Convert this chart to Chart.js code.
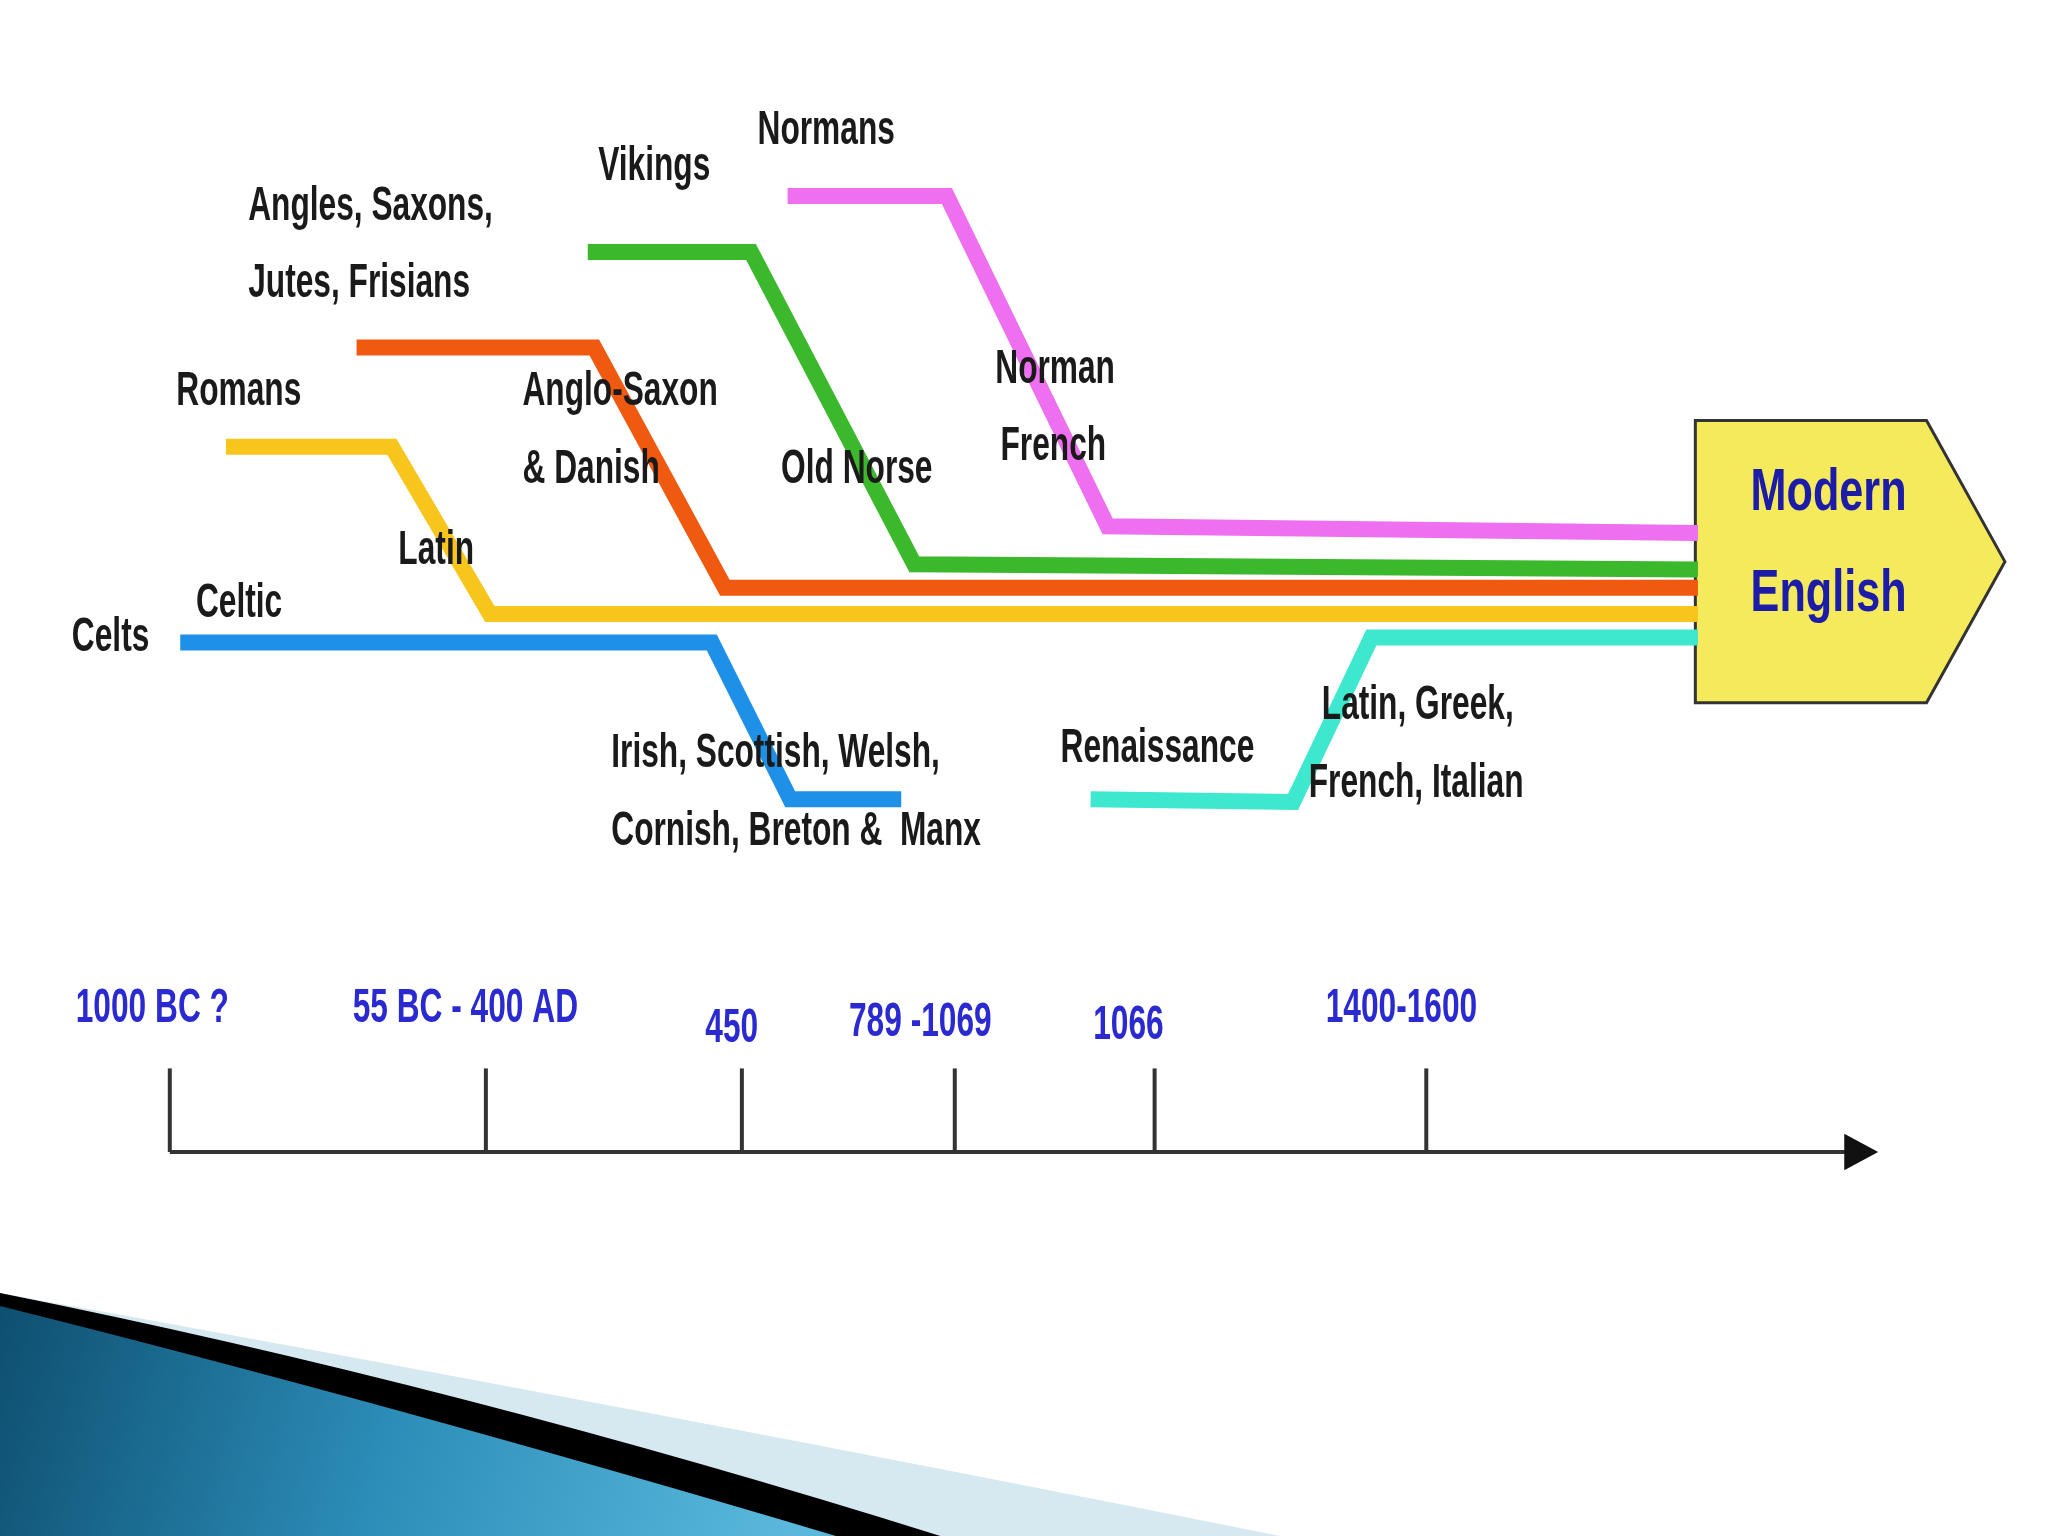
<!DOCTYPE html>
<html><head><meta charset="utf-8">
<script src="https://cdn.jsdelivr.net/npm/chart.js@4/dist/chart.umd.min.js"></script>
<style>html,body{margin:0;padding:0;background:#fff}#w{width:2048px;height:1536px}</style>
</head><body><div id="w"><canvas id="c"></canvas></div>
<script>
// Diagram coordinates (units of a 1568 x 1176 board)
const celtic = [[138,492],[545,492],[605,612],[690,612]];
const renaissance = [[835,612],[990,614],[1050,488],[1300,488]];
const latin = [[173,342],[300,342],[375,470],[1300,470]];
const angloSaxon = [[273,266],[455,266],[555,450],[1300,450]];
const oldNorse = [[450,193],[575,193],[700,432],[1300,436]];
const normanFrench = [[603,150],[725,150],[848,403],[1300,408]];
const seriesColors = ['#1e90e8','#3de8cf','#f7c51c','#ef5a10','#3cb82c','#ee6ff0'];
const tickYears = [130,372,568,731,884,1092];
const tickLabels = ['1000 BC ?','55 BC - 400 AD','450','789 -1069','1066','1400-1600'];
const tickLabelPos = [[58,772],[270,772],[540,788],[650,783],[837,785],[1015,772]];
const labels = [
 ['Celts',55,488],['Celtic',150,462],['Romans',135,300],['Latin',305,422],
 ['Angles, Saxons,',190,158],['Jutes, Frisians',190,217],['Anglo-Saxon',400,300],['& Danish',400,360],
 ['Vikings',458,128],['Normans',580,100],['Old Norse',598,360],['Norman',762,283],['French',766,342],
 ['Irish, Scottish, Welsh,',468,577],['Cornish, Breton &  Manx',468,637],['Renaissance',812,573],
 ['Latin, Greek,',1012,540],['French, Italian',1002,600]];
const target = [[1298,322],[1475,322],[1535,430],[1475,538],[1298,538]];

const toPts = a => a.map(p=>({x:p[0],y:p[1]}));
const all = [celtic,renaissance,latin,angloSaxon,oldNorse,normanFrench];
const datasets = all.map((s,i)=>({data:toPts(s),showLine:true,borderColor:seriesColors[i],borderWidth:16,pointRadius:0,borderJoinStyle:'miter',borderCapStyle:'butt',order:6-i}));
const F = "bold 48px 'Liberation Sans','DejaVu Sans',sans-serif";
function sText(c,t,x,y,sx,align){c.save();c.translate(x,y);c.scale(sx,1);c.textAlign=align||'left';c.fillText(t,0,0);c.restore();}

const deco = {id:'deco',
 beforeDatasetsDraw(ch){const c=ch.ctx,X=ch.scales.x,Y=ch.scales.y;const px=v=>X.getPixelForValue(v),py=v=>Y.getPixelForValue(v);
  c.save();
  c.fillStyle='#d6e8f0';c.beginPath();c.moveTo(px(0),py(990));c.quadraticCurveTo(px(500),py(1080),px(980),py(1176));c.lineTo(px(0),py(1176));c.fill();
  const g=c.createLinearGradient(px(0),py(1000),px(600),py(1176));g.addColorStop(0,'#0e4f70');g.addColorStop(0.5,'#2c8db8');g.addColorStop(1,'#5ab8dc');
  c.fillStyle='#000';c.beginPath();c.moveTo(px(0),py(990));c.quadraticCurveTo(px(350),py(1060),px(720),py(1176));c.lineTo(px(0),py(1176));c.fill();
  c.fillStyle=g;c.beginPath();c.moveTo(px(0),py(1000));c.quadraticCurveTo(px(300),py(1075),px(640),py(1176));c.lineTo(px(0),py(1176));c.fill();
  c.fillStyle='#f4ea5c';c.strokeStyle='#333';c.lineWidth=3;c.beginPath();
  target.forEach((p,i)=>i?c.lineTo(px(p[0]),py(p[1])):c.moveTo(px(p[0]),py(p[1])));c.closePath();c.fill();c.stroke();
  c.restore();},
 afterDatasetsDraw(ch){const c=ch.ctx,X=ch.scales.x,Y=ch.scales.y;const px=v=>X.getPixelForValue(v),py=v=>Y.getPixelForValue(v);
  c.save();
  c.strokeStyle='#333';c.lineWidth=4;c.beginPath();c.moveTo(px(130),py(882));c.lineTo(px(1420),py(882));c.stroke();
  c.fillStyle='#111';c.beginPath();c.moveTo(px(1438),py(882));c.lineTo(px(1412),py(868));c.lineTo(px(1412),py(896));c.fill();
  tickYears.forEach(t=>{c.beginPath();c.moveTo(px(t),py(818));c.lineTo(px(t),py(882));c.stroke();});
  c.textBaseline='middle';
  c.font=F;c.fillStyle='#2a2ad0';
  tickLabels.forEach((t,i)=>sText(c,t,px(tickLabelPos[i][0]),py(tickLabelPos[i][1]),0.66));
  c.fillStyle='#1a1a1a';
  labels.forEach(l=>sText(c,l[0],px(l[1]),py(l[2]),0.66));
  c.fillStyle='#1c1ca8';c.font="bold 60px 'Liberation Sans','DejaVu Sans',sans-serif";
  sText(c,'Modern',px(1400),py(378),0.72,'center');sText(c,'English',px(1400),py(455),0.72,'center');
  c.restore();}};

new Chart(document.getElementById('c'),{type:'scatter',data:{datasets},plugins:[deco],
 options:{responsive:true,maintainAspectRatio:false,animation:false,layout:{padding:0},
  plugins:{legend:{display:false},tooltip:{enabled:false}},
  scales:{x:{type:'linear',min:0,max:1568,display:false},y:{type:'linear',min:0,max:1176,reverse:true,display:false}}}});
</script></body></html>
